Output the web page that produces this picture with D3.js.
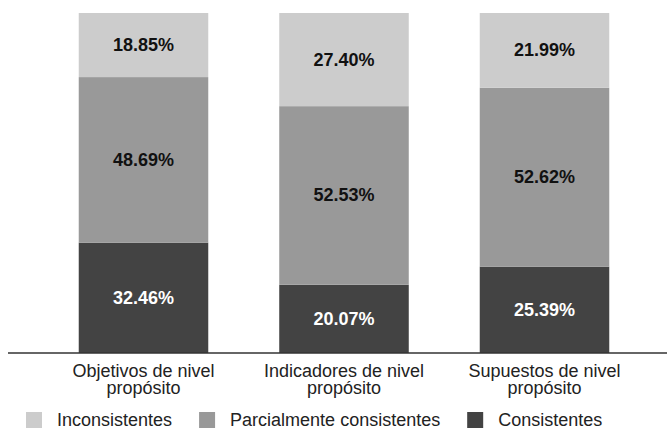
<!DOCTYPE html>
<html>
<head>
<meta charset="utf-8">
<script src="https://cdn.jsdelivr.net/npm/d3@7"></script>
<style>
  html, body { margin: 0; padding: 0; background: #fff; }
  svg { display: block; font-family: "Liberation Sans", Arial, sans-serif; }
</style>
</head>
<body>
<svg id="chart" width="667" height="432"></svg>
<script>
const categories = [
  ["Objetivos de nivel", "propósito"],
  ["Indicadores de nivel", "propósito"],
  ["Supuestos de nivel", "propósito"]
];
const seriesNames = ["Consistentes", "Parcialmente consistentes", "Inconsistentes"];
const consistentes = [32.46, 20.07, 25.39];
const parcialmente = [48.69, 52.53, 52.62];
const inconsistentes = [18.85, 27.40, 21.99];
const legendOrder = ["Inconsistentes", "Parcialmente consistentes", "Consistentes"];

const colors = {
  "Consistentes": "#434343",
  "Parcialmente consistentes": "#999999",
  "Inconsistentes": "#cccccc"
};
const labelColors = {
  "Consistentes": "#ffffff",
  "Parcialmente consistentes": "#111111",
  "Inconsistentes": "#111111"
};

const svg = d3.select("#chart");
const catKeys = categories.map(c => c.join(" "));
const rows = catKeys.map((k, i) => ({
  cat: k,
  "Consistentes": consistentes[i],
  "Parcialmente consistentes": parcialmente[i],
  "Inconsistentes": inconsistentes[i]
}));

const x = d3.scaleBand().domain(catKeys).range([43.25, 644.75]).paddingInner(0.354).paddingOuter(0.177);
const y = d3.scaleLinear().domain([0, 100]).range([353, 13]);

const stacked = d3.stack().keys(seriesNames)(rows);

const g = svg.append("g");
stacked.forEach(layer => {
  const key = layer.key;
  const lg = g.append("g");
  lg.selectAll("rect").data(layer).join("rect")
    .attr("x", d => x(d.data.cat))
    .attr("width", x.bandwidth())
    .attr("y", d => y(d[1]))
    .attr("height", d => y(d[0]) - y(d[1]))
    .attr("fill", colors[key]);
  lg.selectAll("text").data(layer).join("text")
    .attr("x", d => x(d.data.cat) + x.bandwidth() / 2)
    .attr("y", d => (y(d[0]) + y(d[1])) / 2)
    .attr("text-anchor", "middle")
    .attr("dominant-baseline", "central")
    .attr("font-size", 18)
    .attr("font-weight", "bold")
    .attr("fill", labelColors[key])
    .text(d => (d[1] - d[0]).toFixed(2) + "%");
});

// baseline
svg.append("line")
  .attr("x1", 8).attr("x2", 667)
  .attr("y1", y(0)).attr("y2", y(0))
  .attr("stroke", "#333").attr("stroke-width", 1.5);

// category labels
categories.forEach((lines, i) => {
  const t = svg.append("text")
    .attr("x", x(catKeys[i]) + x.bandwidth() / 2)
    .attr("y", 377)
    .attr("text-anchor", "middle")
    .attr("font-size", 18)
    .attr("fill", "#222");
  lines.forEach((ln, j) => {
    t.append("tspan")
      .attr("x", x(catKeys[i]) + x.bandwidth() / 2)
      .attr("dy", j === 0 ? 0 : 17)
      .text(ln);
  });
});

// legend
let lx = 26;
const legend = svg.append("g");
legendOrder.forEach(name => {
  legend.append("rect")
    .attr("x", lx).attr("y", 412)
    .attr("width", 16).attr("height", 16)
    .attr("fill", colors[name]);
  const tx = legend.append("text")
    .attr("x", lx + 31).attr("y", 426)
    .attr("font-size", 18)
    .attr("fill", "#222")
    .text(name);
  const w = tx.node().getComputedTextLength();
  lx = lx + 31 + w + 27;
});
</script>
</body>
</html>
